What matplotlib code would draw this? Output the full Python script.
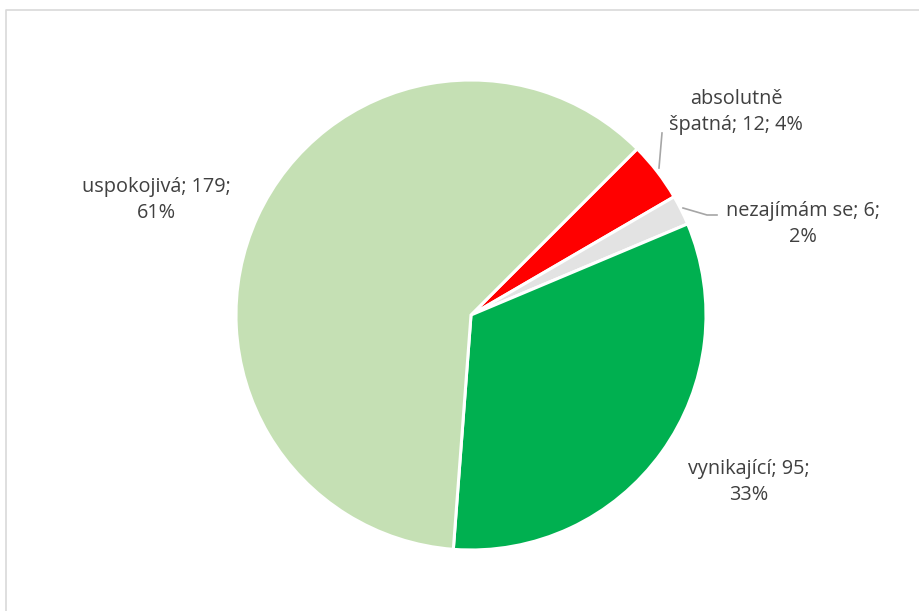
import matplotlib
matplotlib.use("Agg")
import matplotlib.pyplot as plt

categories = ["absolutně špatná", "nezajímám se", "vynikající", "uspokojivá"]
values = [12, 6, 95, 179]
label_texts = ["absolutně\nšpatná; 12; 4%", "nezajímám se; 6;\n2%", "vynikající; 95;\n33%", "uspokojivá; 179;\n61%"]
colors = ["#FF0000", "#E3E3E3", "#00B050", "#C5E0B4"]

W, H = 920, 611
fig = plt.figure(figsize=(W / 100, H / 100), dpi=100)
ax = fig.add_axes([0, 0, 1, 1])
ax.set_xlim(0, W)
ax.set_ylim(0, H)
ax.set_aspect("equal")
ax.axis("off")

cx, cy, r = 471, H - 315, 235
ax.pie(values, colors=colors, startangle=45, counterclock=False,
       center=(cx, cy), radius=r, frame=True,
       wedgeprops=dict(edgecolor="white", linewidth=2.2))
ax.set_xlim(0, W)
ax.set_ylim(0, H)
ax.axis("off")

# frame of chart area
ax.plot([6, 6, W], [0, H - 10, H - 10], color="#D9D9D9", lw=1.2, clip_on=False)

font = dict(family=["Open Sans", "DejaVu Sans"], fontsize=14.3, color="#404040",
            ha="center", va="center", linespacing=1.42)
label_pos = [(736, 112), (803, 224), (749, 482), (156, 200)]
for (lx, ly), t in zip(label_pos, label_texts):
    ax.text(lx, H - ly, t, **font)

# leader lines
ax.plot([659, 662], [H - 168, H - 133], color="#A6A6A6", lw=1.2)
ax.plot([683, 707, 717], [H - 208, H - 215, H - 215], color="#A6A6A6", lw=1.2)

fig.savefig("out.png", dpi=100)
